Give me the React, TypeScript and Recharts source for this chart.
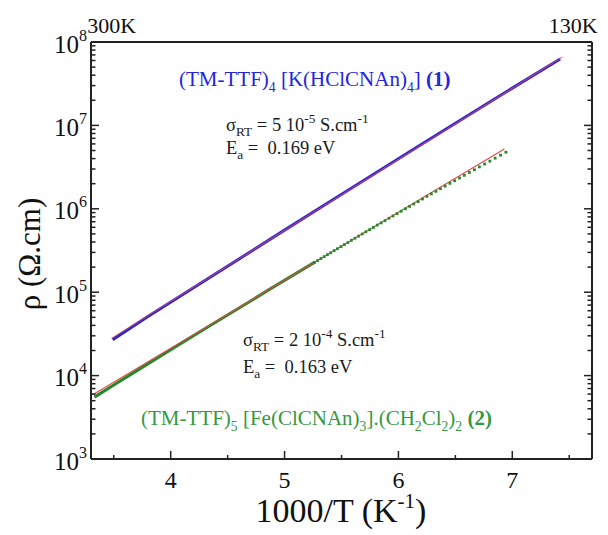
import React from 'react';
import { ComposedChart, Line, XAxis, YAxis, Customized } from 'recharts';

const FONT = '"Liberation Serif", "Times New Roman", Times, serif';
const INK = '#222';
const BLUE = '#2424dc';
const GREEN = '#23892b';
const GREEN_TEXT = '#34983f';
const RED = '#e4474b';

// x axis (1000/T) ticks
const xTicks = [3.5, 4, 4.5, 5, 5.5, 6, 6.5, 7, 7.5];
const xMajor = [4, 5, 6, 7];
// top temperature labels
const topTickValues = [3.333, 7.692];
const topTickLabels = ['300K', '130K'];
// y axis (log) ticks
const yTicks = [
  1e3, 2e3, 3e3, 4e3, 5e3, 6e3, 7e3, 8e3, 9e3,
  1e4, 2e4, 3e4, 4e4, 5e4, 6e4, 7e4, 8e4, 9e4,
  1e5, 2e5, 3e5, 4e5, 5e5, 6e5, 7e5, 8e5, 9e5,
  1e6, 2e6, 3e6, 4e6, 5e6, 6e6, 7e6, 8e6, 9e6,
  1e7, 2e7, 3e7, 4e7, 5e7, 6e7, 7e7, 8e7, 9e7,
  1e8,
];

// compound (1) measured resistivity
const sample1X = [3.49, 3.8, 4.2, 4.6, 5.0, 5.4, 5.8, 6.2, 6.6, 7.0, 7.42];
const sample1Rho = [2.7e4, 5.1e4, 1.13e5, 2.5e5, 5.55e5, 1.22e6, 2.69e6, 5.9e6, 1.29e7, 2.8e7, 6.25e7];
// Arrhenius fit (1)
const fit1X = [3.48, 7.44];
const fit1Rho = [2.79e4, 6.6e7];

// compound (2) measured resistivity: dense (continuous) part
const sample2X = [3.33, 3.4, 3.5, 3.7, 4.0, 4.3, 4.6, 4.9, 5.263];
const sample2Rho = [5.52e3, 6.34e3, 7.71e3, 1.14e4, 2.04e4, 3.64e4, 6.46e4, 1.15e5, 2.28e5];
// compound (2): individual points in the low-temperature part
const sample2DotX = [
  5.263, 5.291, 5.319, 5.348, 5.376, 5.405, 5.435, 5.464, 5.495, 5.525,
  5.556, 5.587, 5.618, 5.65, 5.682, 5.714, 5.747, 5.78, 5.814, 5.848,
  5.882, 5.917, 5.952, 5.988, 6.024, 6.061, 6.098, 6.135, 6.173, 6.211,
  6.25, 6.289, 6.329, 6.369, 6.41, 6.452, 6.494, 6.536, 6.579, 6.623,
  6.667, 6.711, 6.757, 6.803, 6.849, 6.897, 6.944,
];
const sample2DotRho = [
  2.28e5, 2.4e5, 2.53e5, 2.67e5, 2.82e5, 2.97e5, 3.15e5, 3.32e5, 3.52e5, 3.72e5,
  3.94e5, 4.19e5, 4.44e5, 4.7e5, 4.99e5, 5.3e5, 5.62e5, 5.98e5, 6.38e5, 6.78e5,
  7.21e5, 7.71e5, 8.2e5, 8.75e5, 9.35e5, 1.0e6, 1.07e6, 1.14e6, 1.22e6, 1.31e6,
  1.41e6, 1.51e6, 1.62e6, 1.74e6, 1.87e6, 2.02e6, 2.17e6, 2.34e6, 2.52e6, 2.73e6,
  2.94e6, 3.18e6, 3.44e6, 3.73e6, 4.05e6, 4.4e6, 4.77e6,
];
// Arrhenius fit (2)
const fit2X = [3.315, 6.93];
const fit2Rho = [5.89e3, 5.21e6];

const zip = (xs: number[], ys: number[]) => xs.map((x, i) => ({ x, y: ys[i] }));
const sample1 = zip(sample1X, sample1Rho);
const fit1 = zip(fit1X, fit1Rho);
const sample2 = zip(sample2X, sample2Rho);
const sample2Dots = zip(sample2DotX, sample2DotRho);
const fit2 = zip(fit2X, fit2Rho);

const isMajorLog = (v: number) => {
  const l = Math.log10(v);
  return Math.abs(l - Math.round(l)) < 1e-6;
};

const LeftTick = (props: any) => {
  const { x, y, payload } = props;
  const v = payload.value;
  const major = isMajorLog(v);
  return (
    <g>
      <line x1={x} x2={x + (major ? 8 : 4.5)} y1={y} y2={y} stroke={INK} strokeWidth={1.5} />
      {major && (
        <text x={x - 4} y={y + 10.5} textAnchor="end" fontFamily={FONT} fill="#111">
          <tspan fontSize={25}>10</tspan>
          <tspan fontSize={16} dy={-12}>{String(Math.round(Math.log10(v)))}</tspan>
        </text>
      )}
    </g>
  );
};

const RightTick = (props: any) => {
  const { x, y, payload } = props;
  const major = isMajorLog(payload.value);
  return <line x1={x} x2={x - (major ? 8 : 4.5)} y1={y} y2={y} stroke={INK} strokeWidth={1.5} />;
};

const BottomTick = (props: any) => {
  const { x, y, payload } = props;
  const v = payload.value;
  const major = xMajor.indexOf(v) >= 0;
  return (
    <g>
      <line x1={x} x2={x} y1={y} y2={y - (major ? 8 : 4)} stroke={INK} strokeWidth={1.5} />
      {major && (
        <text x={x} y={y + 29} textAnchor="middle" fontFamily={FONT} fontSize={24} fill="#111">
          {String(v)}
        </text>
      )}
    </g>
  );
};

const TopTick = (props: any) => {
  const { x, y, payload, index } = props;
  const i = topTickValues.indexOf(payload.value);
  const label = topTickLabels[i >= 0 ? i : index];
  const first = i === 0;
  return (
    <text
      x={x + (first ? 17 : -18)}
      y={y - 9}
      textAnchor="middle"
      fontFamily={FONT}
      fontSize={22}
      fill="#111"
    >
      {label}
    </text>
  );
};

type Seg = { t: string; s?: 'sub' | 'sup'; b?: boolean };

const RichText = ({ x, y, size, fill, segs, ratio = 0.65 }: { x: number; y: number; size: number; fill: string; segs: Seg[]; ratio?: number }) => {
  const small = size * ratio;
  const off = (m: string) => (m === 'sub' ? size * 0.27 : m === 'sup' ? -size * 0.42 : 0);
  let prev = 'n';
  const spans = segs.map((sg, i) => {
    const cur = sg.s ?? 'n';
    const dy = off(cur) - off(prev);
    prev = cur;
    return (
      <tspan key={i} dy={dy !== 0 ? dy : undefined} fontSize={cur === 'n' ? size : small} fontWeight={sg.b ? 'bold' : undefined}>
        {sg.t}
      </tspan>
    );
  });
  return (
    <text x={x} y={y} fontFamily={FONT} fill={fill} style={{ whiteSpace: 'pre' }}>
      {spans}
    </text>
  );
};

const label1: Seg[] = [
  { t: '(TM-TTF)' }, { t: '4', s: 'sub' }, { t: ' [K(HClCNAn)' }, { t: '4', s: 'sub' }, { t: '] ' }, { t: '(1)', b: true },
];
const sigma1: Seg[] = [
  { t: 'σ' }, { t: 'RT', s: 'sub' }, { t: ' = 5 10' }, { t: '-5', s: 'sup' }, { t: ' S.cm' }, { t: '-1', s: 'sup' },
];
const ea1: Seg[] = [{ t: 'E' }, { t: 'a', s: 'sub' }, { t: ' =  0.169 eV' }];
const sigma2: Seg[] = [
  { t: 'σ' }, { t: 'RT', s: 'sub' }, { t: ' = 2 10' }, { t: '-4', s: 'sup' }, { t: ' S.cm' }, { t: '-1', s: 'sup' },
];
const ea2: Seg[] = [{ t: 'E' }, { t: 'a', s: 'sub' }, { t: ' =  0.163 eV' }];
const label2: Seg[] = [
  { t: '(TM-TTF)' }, { t: '5', s: 'sub' }, { t: ' [Fe(ClCNAn)' }, { t: '3', s: 'sub' }, { t: '].(CH' }, { t: '2', s: 'sub' },
  { t: 'Cl' }, { t: '2', s: 'sub' }, { t: ')' }, { t: '2', s: 'sub' }, { t: ' ' }, { t: '(2)', b: true },
];

const Annotations = () => (
  <g>
    <RichText x={171} y={78} size={21} fill={BLUE} segs={label1} />
    <RichText x={218} y={123} size={18.5} ratio={0.72} fill="#1a1a1a" segs={sigma1} />
    <RichText x={218} y={146} size={18.5} ratio={0.72} fill="#1a1a1a" segs={ea1} />
    <RichText x={235} y={338} size={18.5} ratio={0.72} fill="#1a1a1a" segs={sigma2} />
    <RichText x={235} y={365} size={18.5} ratio={0.72} fill="#1a1a1a" segs={ea2} />
    <RichText x={133} y={417} size={21} fill={GREEN_TEXT} segs={label2} />
    <text x={32} y={246} transform="rotate(-90 32 246)" textAnchor="middle" fontFamily={FONT} fontSize={31} fill="#111">
      ρ (Ω.cm)
    </text>
    <text x={333} y={514} textAnchor="middle" fontFamily={FONT} fontSize={34} fill="#111">
      <tspan>1000/T (K</tspan>
      <tspan fontSize={21} dy={-14}>-1</tspan>
      <tspan dy={14}>)</tspan>
    </text>
  </g>
);

const SquareDot = (p: any) => {
  if (p.cx == null || p.cy == null) return <g key={p.index} />;
  return <rect key={p.index} x={p.cx - 1.4} y={p.cy - 1.4} width={2.8} height={2.8} fill={GREEN} />;
};

export default function App() {
  return (
    <div style={{ width: 600, height: 527, background: '#fff' }}>
      <ComposedChart width={600} height={527} margin={{ top: 14, right: 0, bottom: 16, left: 13 }}>
        <XAxis
          xAxisId="b"
          dataKey="x"
          type="number"
          domain={[3.3, 7.7]}
          allowDataOverflow
          ticks={xTicks}
          interval={0}
          tickSize={0}
          tickMargin={0}
          tickLine={false}
          tick={<BottomTick />}
          axisLine={{ stroke: INK, strokeWidth: 2 }}
          height={60}
        />
        <XAxis
          xAxisId="t"
          orientation="top"
          dataKey="x"
          type="number"
          domain={[3.3, 7.7]}
          allowDataOverflow
          ticks={topTickValues}
          interval={0}
          tickSize={0}
          tickMargin={0}
          tickLine={false}
          tick={<TopTick />}
          axisLine={{ stroke: INK, strokeWidth: 2 }}
          height={20}
        />
        <YAxis
          yAxisId="l"
          dataKey="y"
          scale="log"
          type="number"
          domain={[1e3, 1e8]}
          allowDataOverflow
          ticks={yTicks}
          interval={0}
          tickSize={0}
          tickMargin={0}
          tickLine={false}
          tick={<LeftTick />}
          axisLine={{ stroke: INK, strokeWidth: 2 }}
          width={70}
        />
        <YAxis
          yAxisId="r"
          orientation="right"
          dataKey="y"
          scale="log"
          type="number"
          domain={[1e3, 1e8]}
          allowDataOverflow
          ticks={yTicks}
          interval={0}
          tickSize={0}
          tickMargin={0}
          tickLine={false}
          tick={<RightTick />}
          axisLine={{ stroke: INK, strokeWidth: 2 }}
          width={16}
        />
        <Line
          data={sample2}
          xAxisId="b"
          yAxisId="l"
          dataKey="y"
          stroke={GREEN}
          strokeWidth={3}
          dot={false}
          activeDot={false}
          isAnimationActive={false}
        />
        <Line
          data={sample2Dots}
          xAxisId="b"
          yAxisId="l"
          dataKey="y"
          stroke="none"
          dot={SquareDot}
          activeDot={false}
          isAnimationActive={false}
        />
        <Line
          data={sample1}
          xAxisId="b"
          yAxisId="l"
          dataKey="y"
          stroke={BLUE}
          strokeWidth={3}
          dot={false}
          activeDot={false}
          isAnimationActive={false}
        />
        <Line
          data={fit1}
          xAxisId="t"
          yAxisId="r"
          dataKey="y"
          stroke={RED}
          strokeWidth={1.1}
          strokeOpacity={0.75}
          dot={false}
          activeDot={false}
          isAnimationActive={false}
        />
        <Line
          data={fit2}
          xAxisId="t"
          yAxisId="r"
          dataKey="y"
          stroke={RED}
          strokeWidth={1.1}
          dot={false}
          activeDot={false}
          isAnimationActive={false}
        />
        <Customized component={Annotations} />
      </ComposedChart>
    </div>
  );
}
